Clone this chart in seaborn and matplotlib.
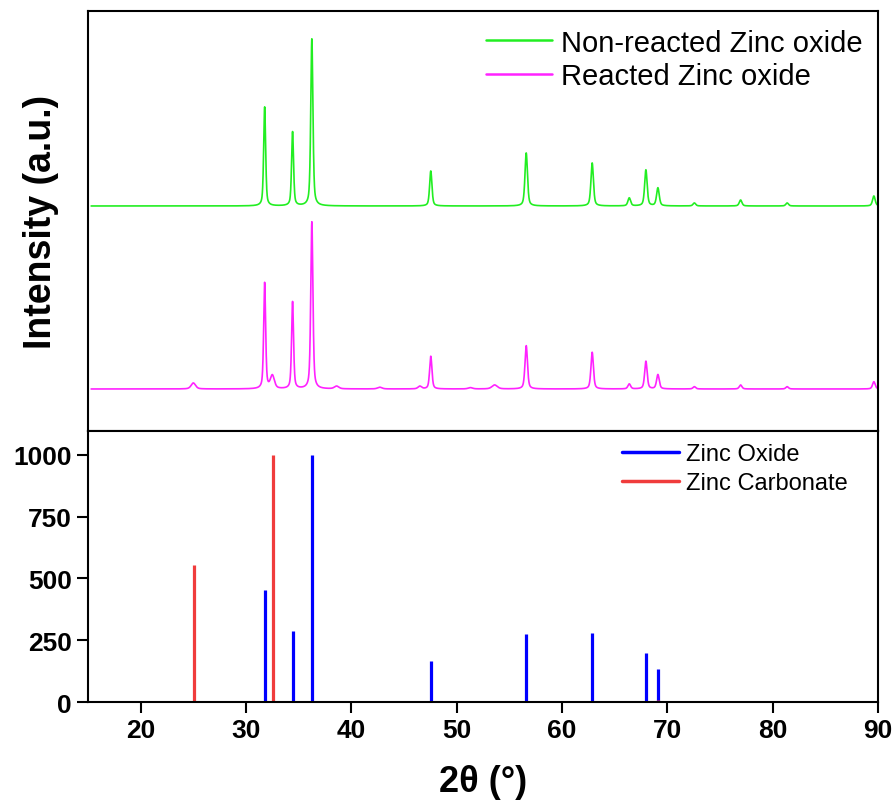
import numpy as np
import pandas as pd
import matplotlib
matplotlib.use("Agg")
import matplotlib.pyplot as plt
import seaborn as sns
from matplotlib.lines import Line2D

# ---------------- data ----------------
# Top panel: XRD patterns, arbitrary units (peak positions in 2theta, apex intensity, FWHM)
green_base = 225.0
green_pos = [31.77, 34.42, 36.25, 47.54, 56.60, 62.86, 66.38, 67.96, 69.10, 72.56, 76.95, 81.37, 89.60]
green_apex = [324, 299, 392, 260, 278, 268, 233, 261, 243, 228, 231, 228, 235]
green_fwhm = [0.22, 0.22, 0.24, 0.26, 0.28, 0.28, 0.3, 0.28, 0.3, 0.3, 0.3, 0.3, 0.3]

magenta_base = 42.0
magenta_pos = [25.0, 31.77, 32.5, 34.42, 36.25, 38.6, 42.7, 46.5, 47.54, 51.3, 53.6,
               56.60, 62.86, 66.38, 67.96, 69.10, 72.56, 76.95, 81.37, 89.60]
magenta_apex = [48, 148, 55, 129, 209, 44.7, 43.7, 44.7, 74.7, 43.3, 46,
                85.3, 78.7, 47, 69.7, 56.3, 44.3, 46, 44.3, 49.3]
magenta_fwhm = [0.5, 0.22, 0.45, 0.22, 0.24, 0.5, 0.5, 0.4, 0.26, 0.5, 0.6,
                0.28, 0.28, 0.3, 0.28, 0.3, 0.3, 0.3, 0.3, 0.3]

series_labels = ["Non-reacted Zinc oxide", "Reacted Zinc oxide"]

# Bottom panel: reference patterns (stick lines)
zno_pos = [31.77, 34.42, 36.25, 47.54, 56.60, 62.86, 67.96, 69.10]
zno_int = [453, 287, 1000, 165, 275, 278, 198, 135]
znco3_pos = [25.05, 32.55, 69.15]
znco3_int = [553, 1000, 8]
ref_labels = ["Zinc Oxide", "Zinc Carbonate"]

x_ticks = [20, 30, 40, 50, 60, 70, 80, 90]
y_ticks = [0, 250, 500, 750, 1000]

# ---------------- build profiles ----------------
two_theta = np.arange(15.3, 89.92, 0.01)


def profile(base, pos, apex, fwhm):
    y = np.full_like(two_theta, base, dtype=float)
    for p, a, w in zip(pos, apex, fwhm):
        u = (two_theta - p) / (w / 2.0)
        shape = 0.5 / (1 + u ** 2) + 0.5 * np.exp(-np.log(2) * u ** 2)
        y += (a - base) * shape
    return y


df = pd.concat([
    pd.DataFrame({"2θ": two_theta, "I": profile(green_base, green_pos, green_apex, green_fwhm),
                  "sample": series_labels[0]}),
    pd.DataFrame({"2θ": two_theta, "I": profile(magenta_base, magenta_pos, magenta_apex, magenta_fwhm),
                  "sample": series_labels[1]}),
])

# ---------------- style ----------------
sns.set_style("white")
plt.rcParams["font.family"] = ["Liberation Sans", "DejaVu Sans"]
plt.rcParams["axes.linewidth"] = 1.5
for k in ["text.color", "axes.labelcolor", "xtick.color", "ytick.color", "axes.edgecolor"]:
    plt.rcParams[k] = "black"

fig = plt.figure(figsize=(8.96, 8.04), dpi=100)
ax1 = fig.add_axes([0.0982, 0.4627, 0.8818, 0.5224])
ax2 = fig.add_axes([0.0982, 0.1256, 0.8818, 0.3371], sharex=ax1)

palette = {series_labels[0]: "#22ee22", series_labels[1]: "#ff22ff"}
sns.lineplot(data=df, x="2θ", y="I", hue="sample", palette=palette, ax=ax1,
             estimator=None, sort=False, linewidth=1.2, legend=False)
ax1.set_xlim(15, 90)
ax1.set_ylim(0, 420)
ax1.set_xlabel("")
ax1.set_ylabel("Intensity (a.u.)", fontsize=27, fontweight="bold", labelpad=21)
ax1.set_yticks([])
ax1.tick_params(axis="x", bottom=False, labelbottom=False)
for s in ax1.spines.values():
    s.set_color("black")
    s.set_linewidth(1.5)
h1 = [Line2D([], [], color=palette[l], lw=1.8) for l in series_labels]
ax1.legend(h1, series_labels, loc="upper right", bbox_to_anchor=(0.98, 0.958),
           frameon=False, fontsize=21, handlelength=2.25, handletextpad=0.3,
           labelspacing=0.18, borderpad=0, borderaxespad=0)

# bottom
ax2.vlines(zno_pos, 0, zno_int, colors="#0000ff", linewidth=2.3, label=ref_labels[0])
ax2.vlines(znco3_pos, 0, znco3_int, colors="#f03c3c", linewidth=2.3, label=ref_labels[1])
ax2.set_ylim(0, 1097)
ax2.set_yticks(y_ticks)
ax2.set_xticks(x_ticks)
ax2.set_xlim(15, 90)
ax2.set_xlabel("2θ (°)", fontsize=26, fontweight="bold", labelpad=16)
ax2.tick_params(axis="both", direction="out", length=8, width=1.5, labelsize=19,
                bottom=True, left=True, colors="black")
for lab in ax2.get_xticklabels() + ax2.get_yticklabels():
    lab.set_fontweight("bold")
for s in ax2.spines.values():
    s.set_color("black")
    s.set_linewidth(1.5)
h2 = [Line2D([], [], color="#0000ff", lw=2.5), Line2D([], [], color="#f03c3c", lw=2.5)]
ax2.legend(h2, ref_labels, loc="upper right", bbox_to_anchor=(0.961, 0.955),
           frameon=False, fontsize=17, handlelength=2.4, handletextpad=0.27,
           labelspacing=0.28, borderpad=0, borderaxespad=0)

fig.savefig("out.png", dpi=100)
